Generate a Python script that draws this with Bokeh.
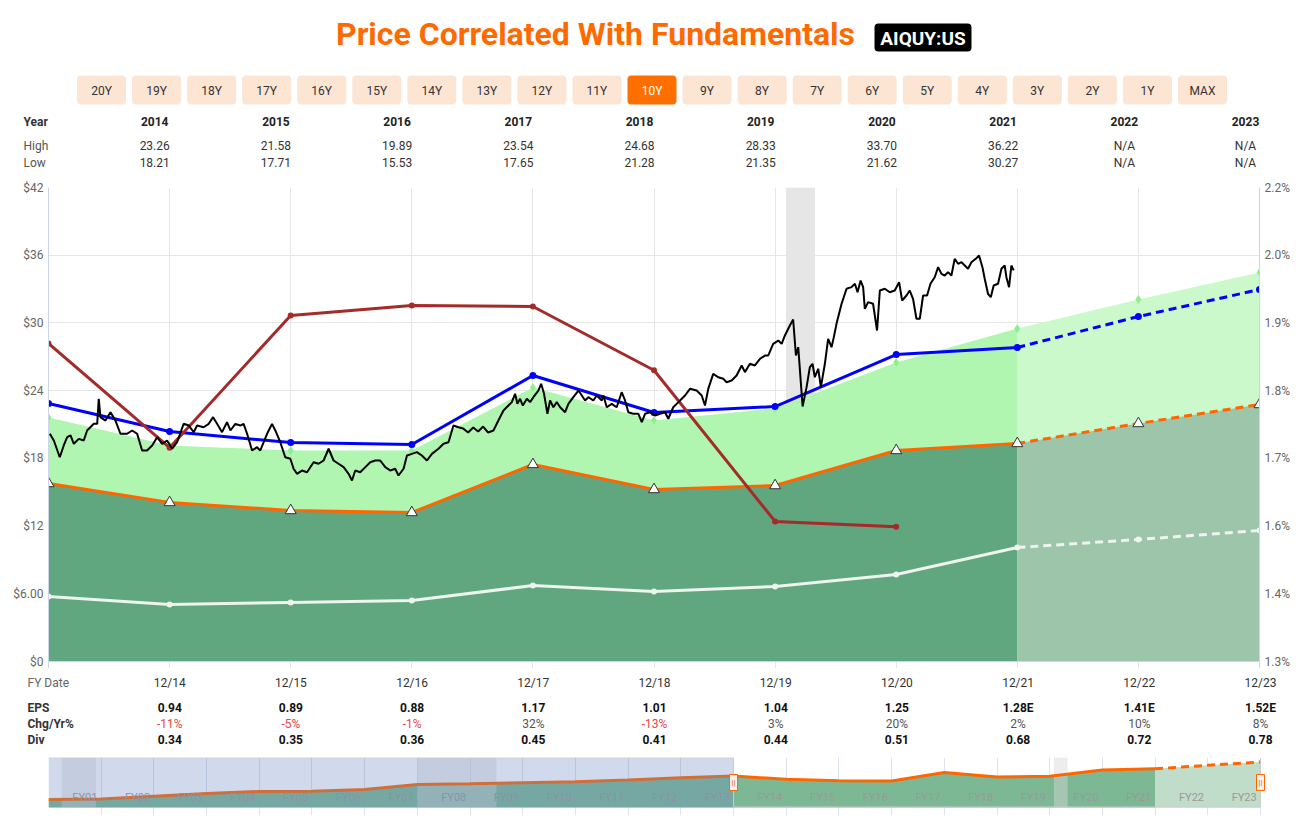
from bokeh.plotting import figure
from bokeh.layouts import column
from bokeh.models import Range1d, LinearAxis, FixedTicker, Grid, Span, Plot
from bokeh.core.properties import value
from bokeh.embed import file_html
from bokeh.resources import INLINE

# ------------------------------------------------------------------ data
title_text = "Price Correlated With Fundamentals"
ticker_symbol = "AIQUY:US"
range_buttons = ["20Y", "19Y", "18Y", "17Y", "16Y", "15Y", "14Y", "13Y", "12Y", "11Y",
                 "10Y", "9Y", "8Y", "7Y", "6Y", "5Y", "4Y", "3Y", "2Y", "1Y", "MAX"]
selected_button = "10Y"

years = ["2014", "2015", "2016", "2017", "2018", "2019", "2020", "2021", "2022", "2023"]
price_high = ["23.26", "21.58", "19.89", "23.54", "24.68", "28.33", "33.70", "36.22", "N/A", "N/A"]
price_low = ["18.21", "17.71", "15.53", "17.65", "21.28", "21.35", "21.62", "30.27", "N/A", "N/A"]

# fiscal year ends 12/13 .. 12/23 on a decimal-year axis
fy_pos = [2014, 2015, 2016, 2017, 2018, 2019, 2020, 2021, 2022, 2023, 2024]
fy_labels = ["12/13", "12/14", "12/15", "12/16", "12/17", "12/18", "12/19", "12/20", "12/21", "12/22", "12/23"]

eps_labels = ["0.94", "0.89", "0.88", "1.17", "1.01", "1.04", "1.25", "1.28E", "1.41E", "1.52E"]
chg_labels = ["-11%", "-5%", "-1%", "32%", "-13%", "3%", "20%", "2%", "10%", "8%"]
div_labels = ["0.34", "0.35", "0.36", "0.45", "0.41", "0.44", "0.51", "0.68", "0.72", "0.78"]

fair_value = [15.77, 14.09, 13.38, 13.20, 17.46, 15.24, 15.59, 18.70, 19.32, 21.09, 22.77]      # orange
normal_value = [22.86, 20.38, 19.40, 19.23, 25.34, 22.06, 22.59, 27.20, 27.82, 30.57, 32.96]    # blue
fv_plus_div = [21.62, 19.14, 18.70, 18.70, 24.28, 21.35, 22.42, 26.49, 29.51, 32.08, 34.47]     # light green top
div_value = [5.76, 5.05, 5.23, 5.40, 6.73, 6.20, 6.65, 7.71, 10.10, 10.81, 11.61]               # white
div_yield = [1.904, 1.706, 1.957, 1.976, 1.974, 1.853, 1.566, 1.556]                              # brown, % (right axis)

left_ticks = [0, 6, 12, 18, 24, 30, 36, 42]
left_tick_labels = ["$0", "$6.00", "$12", "$18", "$24", "$30", "$36", "$42"]
right_tick_labels = ["1.3%", "1.4%", "1.6%", "1.7%", "1.8%", "1.9%", "2.0%", "2.2%"]
yield_min, yield_max = 1.3, 2.2

recession_main = [(2020.09, 2020.33)]

price_t = [
    2014.011, 2014.044, 2014.093, 2014.126, 2014.154, 2014.182, 2014.209, 2014.250, 2014.291, 2014.319,
    2014.374, 2014.402, 2014.415, 2014.429, 2014.470, 2014.512, 2014.553, 2014.594, 2014.649, 2014.691,
    2014.732, 2014.773, 2014.814, 2014.856, 2014.897, 2014.938, 2014.979, 2015.021, 2015.062, 2015.116,
    2015.158, 2015.199, 2015.227, 2015.281, 2015.323, 2015.359, 2015.392, 2015.433, 2015.474, 2015.502,
    2015.543, 2015.584, 2015.611, 2015.640, 2015.681, 2015.722, 2015.749, 2015.805, 2015.846, 2015.873,
    2015.914, 2015.955, 2015.997, 2016.024, 2016.052, 2016.093, 2016.135, 2016.189, 2016.230, 2016.272,
    2016.313, 2016.354, 2016.395, 2016.437, 2016.478, 2016.506, 2016.533, 2016.574, 2016.616, 2016.657,
    2016.698, 2016.739, 2016.781, 2016.822, 2016.863, 2016.890, 2016.932, 2016.960, 2017.001, 2017.042,
    2017.083, 2017.125, 2017.166, 2017.220, 2017.262, 2017.303, 2017.344, 2017.385, 2017.424, 2017.465,
    2017.507, 2017.548, 2017.589, 2017.630, 2017.674, 2017.715, 2017.757, 2017.798, 2017.826, 2017.853,
    2017.872, 2017.894, 2017.917, 2017.950, 2017.977, 2018.004, 2018.045, 2018.068, 2018.092, 2018.120,
    2018.142, 2018.169, 2018.197, 2018.225, 2018.266, 2018.293, 2018.334, 2018.376, 2018.404, 2018.431,
    2018.458, 2018.499, 2018.527, 2018.569, 2018.582, 2018.610, 2018.651, 2018.692, 2018.733, 2018.761,
    2018.788, 2018.829, 2018.871, 2018.899, 2018.926, 2018.967, 2019.008, 2019.050, 2019.091, 2019.118,
    2019.159, 2019.187, 2019.215, 2019.256, 2019.297, 2019.352, 2019.394, 2019.421, 2019.448, 2019.489,
    2019.531, 2019.572, 2019.600, 2019.641, 2019.682, 2019.724, 2019.751, 2019.792, 2019.833, 2019.875,
    2019.916, 2019.943, 2019.984, 2020.026, 2020.054, 2020.081, 2020.122, 2020.149, 2020.172, 2020.191,
    2020.227, 2020.260, 2020.287, 2020.309, 2020.328, 2020.356, 2020.378, 2020.411, 2020.438, 2020.466,
    2020.485, 2020.507, 2020.549, 2020.590, 2020.631, 2020.659, 2020.681, 2020.706, 2020.727, 2020.741,
    2020.768, 2020.809, 2020.842, 2020.865, 2020.906, 2020.947, 2020.988, 2021.024, 2021.049, 2021.085,
    2021.112, 2021.139, 2021.167, 2021.195, 2021.222, 2021.255, 2021.283, 2021.318, 2021.346, 2021.374,
    2021.401, 2021.428, 2021.456, 2021.483, 2021.511, 2021.539, 2021.566, 2021.593, 2021.621, 2021.657,
    2021.684, 2021.712, 2021.731, 2021.758, 2021.781, 2021.805, 2021.841, 2021.869, 2021.896, 2021.910,
    2021.932, 2021.951, 2021.970,
]
price_v = [
    20.18, 19.58, 18.10, 19.14, 19.88, 20.03, 19.29, 19.73, 19.58, 20.47,
    21.06, 21.06, 23.28, 21.65, 21.35, 22.09, 21.35, 20.18, 20.18, 20.47,
    20.18, 18.70, 18.70, 19.14, 19.88, 19.29, 19.58, 18.85, 19.43, 21.06,
    20.91, 20.32, 20.91, 20.76, 21.06, 21.65, 21.06, 20.32, 21.20, 20.47,
    21.06, 20.91, 21.06, 20.18, 18.70, 18.99, 18.70, 20.18, 21.06, 20.47,
    19.43, 18.10, 17.96, 17.08, 16.63, 16.92, 16.77, 17.66, 17.52, 17.81,
    18.85, 17.81, 17.52, 17.22, 16.63, 16.04, 16.92, 16.77, 17.22, 17.66,
    17.81, 17.81, 17.22, 16.92, 17.08, 16.48, 17.08, 18.25, 18.40, 18.55,
    18.25, 17.81, 18.40, 18.85, 19.29, 19.43, 20.91, 20.76, 20.65, 20.29,
    20.73, 20.38, 20.82, 20.29, 20.47, 21.35, 22.24, 22.68, 22.98, 23.72,
    22.83, 23.28, 22.68, 23.28, 22.98, 23.42, 24.01, 24.61, 23.72, 21.95,
    23.13, 22.53, 22.98, 22.53, 22.09, 22.83, 23.42, 24.01, 23.57, 23.13,
    23.42, 23.13, 23.57, 23.13, 23.57, 22.53, 22.83, 22.53, 23.86, 23.13,
    22.09, 21.95, 21.95, 21.20, 21.95, 22.09, 21.80, 21.95, 22.09, 21.51,
    22.53, 22.83, 23.13, 23.57, 24.16, 24.01, 23.57, 22.68, 24.16, 25.49,
    25.19, 25.05, 24.75, 24.90, 25.34, 26.23, 25.64, 26.38, 26.23, 26.82,
    27.11, 27.11, 28.15, 28.44, 28.15, 28.89, 29.77, 30.30, 27.11, 27.85,
    22.60, 24.31, 26.08, 26.38, 25.19, 25.94, 24.31, 26.38, 28.59, 27.85,
    28.74, 29.92, 31.70, 33.03, 33.17, 33.47, 32.72, 33.76, 33.17, 31.25,
    31.84, 31.70, 29.33, 32.87, 33.03, 32.72, 32.87, 33.61, 31.99, 32.43,
    32.87, 32.14, 30.37, 30.37, 32.43, 32.43, 33.47, 34.05, 34.94, 34.35,
    34.20, 34.50, 34.20, 35.68, 35.24, 35.38, 35.09, 34.80, 35.38, 35.68,
    35.98, 34.94, 33.91, 32.58, 32.28, 33.32, 33.47, 34.80, 35.09, 34.05,
    33.17, 35.09, 34.65,
]

# navigator (12/00 .. 12/23)
nav_years = list(range(2001, 2025))
nav_fv_history = [3.98, 4.28, 5.64, 7.00, 8.00, 8.16, 9.02, 11.54, 11.84, 12.34, 12.85, 13.70, 14.86]
nav_fv = nav_fv_history + fair_value
nav_labels = ["FY%02d" % k for k in range(1, 24)]
recession_nav = [(2001.25, 2001.90), (2008.0, 2009.5), (2020.08, 2020.34)]
nav_selected = (2014, 2024)

# ------------------------------------------------------------------ layout constants
FONT = "Roboto"
W = 1292
FRAME_L, FRAME_R = 48, 1260
FRAME_T, FRAME_B = 187, 661
TICK_PX = 7
YEAR_PX = (FRAME_R - FRAME_L) / 10.0
PX_PER_DOLLAR = (FRAME_B - FRAME_T) / 42.0
N_EST = 8  # index of 12/21 (start of estimates)

DARK = "#60a67e"
DARK_EST = "#9cc5aa"
LIGHT = "#b0f5b0"
LIGHT_EST = "#ccf9cc"

NOALIGN = {"frame_align": False} if "frame_align" in Plot.properties() else {}


def fy_px(i):
    return FRAME_L + (i + 1) * YEAR_PX


def pixel_fig(height, top):
    f = figure(width=W, height=height, x_range=Range1d(0, W),
               y_range=Range1d(top + height, top), x_axis_type=None, y_axis_type=None,
               output_backend="svg", toolbar_location=None, min_border=0, **NOALIGN)
    f.outline_line_color = None
    return f


def txt(f, x, y, text, size="12px", color="#333333", bold=False, align="center"):
    f.text(x=x, y=y, text=text, text_font=value(FONT), text_font_size=size,
           text_font_style="bold" if bold else "normal", text_color=color,
           text_align=align, text_baseline="middle")


# ------------------------------------------------------------------ header
HDR_H = 176
hdr = pixel_fig(HDR_H, 0)
txt(hdr, [595], [33.5], [title_text], size="32px", color="#ff6a00", bold=True)
hdr.quad(left=[874], right=[971], top=[23], bottom=[51], fill_color="black", line_color=None,
         border_radius=4)
txt(hdr, [922.5], [37.5], [ticker_symbol], size="19px", color="white", bold=True)

bx = [101 + i * 55.05 for i in range(len(range_buttons))]
hdr.quad(left=[x - 24.5 for x in bx], right=[x + 24.5 for x in bx], top=75, bottom=104,
         fill_color=["#ff6f00" if b == selected_button else "#fde5d3" for b in range_buttons],
         line_color=None, border_radius=4)
txt(hdr, bx, 90, range_buttons,
    color=["white" if b == selected_button else "#333333" for b in range_buttons])

txt(hdr, [23], [121], ["Year"], bold=True, align="left")
txt(hdr, [23, 23], [145, 162], ["High", "Low"], color="#555555", align="left")
col_x = [fy_px(i) - 15 for i in range(len(years))]
txt(hdr, col_x, 121, years, color="#222222", bold=True)
txt(hdr, col_x, 145, price_high)
txt(hdr, col_x, 162, price_low)

# ------------------------------------------------------------------ main chart
y_lo = -TICK_PX / PX_PER_DOLLAR           # frame runs a few px below $0 (tick marks)
main = figure(width=W, height=FRAME_B + TICK_PX - HDR_H,
              x_range=Range1d(fy_pos[0], fy_pos[-1]), y_range=Range1d(y_lo, 42),
              output_backend="svg", toolbar_location=None,
              min_border_left=FRAME_L, min_border_right=W - FRAME_R,
              min_border_top=FRAME_T - HDR_H, min_border_bottom=0, **NOALIGN)
main.outline_line_color = None
main.xaxis.visible = False

yl = main.yaxis[0]
yl.ticker = FixedTicker(ticks=left_ticks)
yl.major_label_overrides = dict(zip(left_ticks, left_tick_labels))

yt = [yield_min + k * (yield_max - yield_min) / 7 for k in range(8)]
yld_lo = yt[0] - TICK_PX * (yield_max - yield_min) / (FRAME_B - FRAME_T)
main.extra_y_ranges = {"yld": Range1d(yld_lo, yt[-1])}
yr = LinearAxis(y_range_name="yld", ticker=FixedTicker(ticks=yt),
                major_label_overrides=dict(zip(yt, right_tick_labels)))
main.add_layout(yr, "right")

for ax in [yl, yr]:
    ax.major_tick_out = 0
    ax.major_tick_in = 0
    ax.minor_tick_line_color = None
    ax.major_label_standoff = 5
    ax.major_label_text_color = "#666666"
    ax.axis_line_color = "#ccd6eb"
    ax.major_label_text_font = FONT
    ax.major_label_text_font_size = "12px"

main.xgrid.ticker = FixedTicker(ticks=fy_pos)
main.grid.grid_line_color = "#e6e6e6"

for a, b in recession_main:
    main.quad(left=[a], right=[b], bottom=0, top=42, fill_color="#e6e6e6", line_color=None)

# areas (actual and estimated parts)
main.varea(x=fy_pos[:N_EST + 1], y1=0, y2=fv_plus_div[:N_EST + 1], fill_color=LIGHT)
main.varea(x=fy_pos[N_EST:], y1=0, y2=fv_plus_div[N_EST:], fill_color=LIGHT_EST)
main.varea(x=fy_pos[:N_EST + 1], y1=0, y2=fair_value[:N_EST + 1], fill_color=DARK)
main.varea(x=fy_pos[N_EST:], y1=0, y2=fair_value[N_EST:], fill_color=DARK_EST)
main.scatter(fy_pos, fv_plus_div, marker="diamond", size=9, fill_color="#90ee90", line_color=None)
main.add_layout(Span(location=0, dimension="width", line_color="#ccd6eb", line_width=1))

# dividend line (white)
main.line(fy_pos[:N_EST + 1], div_value[:N_EST + 1], line_color="#eef4ee", line_width=3)
main.line(fy_pos[N_EST:], div_value[N_EST:], line_color="#eef4ee", line_width=3, line_dash="8 5")
main.scatter(fy_pos, div_value, size=6, fill_color="#eef4ee", line_color=None)

# fair value (orange)
main.line(fy_pos[:N_EST + 1], fair_value[:N_EST + 1], line_color="#ff6600", line_width=3)
main.line(fy_pos[N_EST:], fair_value[N_EST:], line_color="#ff6600", line_width=3, line_dash="8 5")
main.scatter(fy_pos, fair_value, marker="triangle", size=11, fill_color="white",
             line_color="#333333", line_width=1)

# normal value (blue)
main.line(fy_pos[:N_EST + 1], normal_value[:N_EST + 1], line_color="#0000ff", line_width=3)
main.line(fy_pos[N_EST:], normal_value[N_EST:], line_color="#0000ff", line_width=3, line_dash="8 5")
main.scatter(fy_pos, normal_value, size=7, fill_color="#0000ff", line_color=None)

# dividend yield (brown, right axis)
main.line(fy_pos[:len(div_yield)], div_yield, y_range_name="yld", line_color="#a52a2a", line_width=3)
main.scatter(fy_pos[:len(div_yield)], div_yield, y_range_name="yld", size=6,
             fill_color="#a52a2a", line_color=None)

# price
main.line(price_t, price_v, line_color="black", line_width=2)

# ------------------------------------------------------------------ table under chart
TBL_TOP = FRAME_B + TICK_PX
TBL_H = 748 - TBL_TOP
tbl = pixel_fig(TBL_H, TBL_TOP)
tx = [fy_px(i) for i in range(len(eps_labels))]
txt(tbl, [27], [682], ["FY Date"], color="#666666", align="left")
txt(tbl, tx, 682, fy_labels[1:], color="#333333")
txt(tbl, [27, 27, 27], [707, 723, 739], ["EPS", "Chg/Yr%", "Div"], bold=True, align="left")
txt(tbl, tx, 707, eps_labels, color="#111111", bold=True)
txt(tbl, tx, 723, chg_labels, color=["#e04848" if c.startswith("-") else "#555555" for c in chg_labels])
txt(tbl, tx, 739, div_labels, color="#111111", bold=True)

# ------------------------------------------------------------------ navigator
NAV_TOP, NAV_FT, NAV_FB = 748, 757, 807
NAV_YEAR_PX = (FRAME_R - FRAME_L) / 23.0
NAV_RB = 26
NAV_UNIT = 2.0                              # px per navigator y-unit
nav_end = nav_years[0] + (W - FRAME_L - NAV_RB) / NAV_YEAR_PX
nav_top = (NAV_FB - NAV_FT) / NAV_UNIT
nav_lo = -8 / NAV_UNIT
nav = figure(width=W, height=70, x_range=Range1d(nav_years[0], nav_end),
             y_range=Range1d(nav_lo, nav_top), x_axis_type=None, y_axis_type=None,
             output_backend="svg", toolbar_location=None,
             min_border_left=FRAME_L, min_border_right=NAV_RB,
             min_border_top=NAV_FT - NAV_TOP, min_border_bottom=70 - (NAV_FT - NAV_TOP) - (NAV_FB + 8 - NAV_FT),
             **NOALIGN)
nav.outline_line_color = None
nav.add_layout(Grid(dimension=0, ticker=FixedTicker(ticks=nav_years), grid_line_color="#dde3ee"))

NE = nav_years.index(2022)
nav.varea(x=nav_years[:NE + 1], y1=0, y2=nav_fv[:NE + 1], fill_color="#7db895")
nav.varea(x=nav_years[NE:], y1=0, y2=nav_fv[NE:], fill_color="#c0ddc9")
for a, b in recession_nav:
    nav.quad(left=[a], right=[b], bottom=0, top=nav_top, fill_color="#d8d8d8", fill_alpha=0.45,
             line_color=None)
nav.line(nav_years[:NE + 1], nav_fv[:NE + 1], line_color="#ff6600", line_width=3)
nav.line(nav_years[NE:], nav_fv[NE:], line_color="#ff6600", line_width=3, line_dash="8 5")
nav.text(x=[nav_years[0] + k + 0.69 for k in range(len(nav_labels))], y=5, text=nav_labels,
         text_font=value(FONT), text_font_size="11px", text_color="#999999",
         text_align="center", text_baseline="middle")
nav.quad(left=[nav_years[0]], right=[nav_selected[0]], bottom=0, top=nav_top, fill_color="#6685c2",
         fill_alpha=0.3, line_color=None)
nav.line([nav_years[0], nav_selected[0], nav_selected[0], nav_selected[1], nav_selected[1]],
         [nav_top - 0.25, nav_top - 0.25, 0.25, 0.25, nav_top - 0.25], line_color="#cccccc", line_width=1)
nav.rect(x=list(nav_selected), y=12.5, width=8, height=16, width_units="screen",
         height_units="screen", fill_color="#f2f2f2", line_color="#ff6600", line_width=1)
nav.text(x=list(nav_selected), y=12.5, text=["||", "||"], text_font=value(FONT),
         text_font_size="8px", text_color="#ff6600", text_align="center", text_baseline="middle")

layout = column(hdr, main, tbl, nav)
open("out.html", "w").write(file_html(layout, INLINE, "Price Correlated With Fundamentals"))
